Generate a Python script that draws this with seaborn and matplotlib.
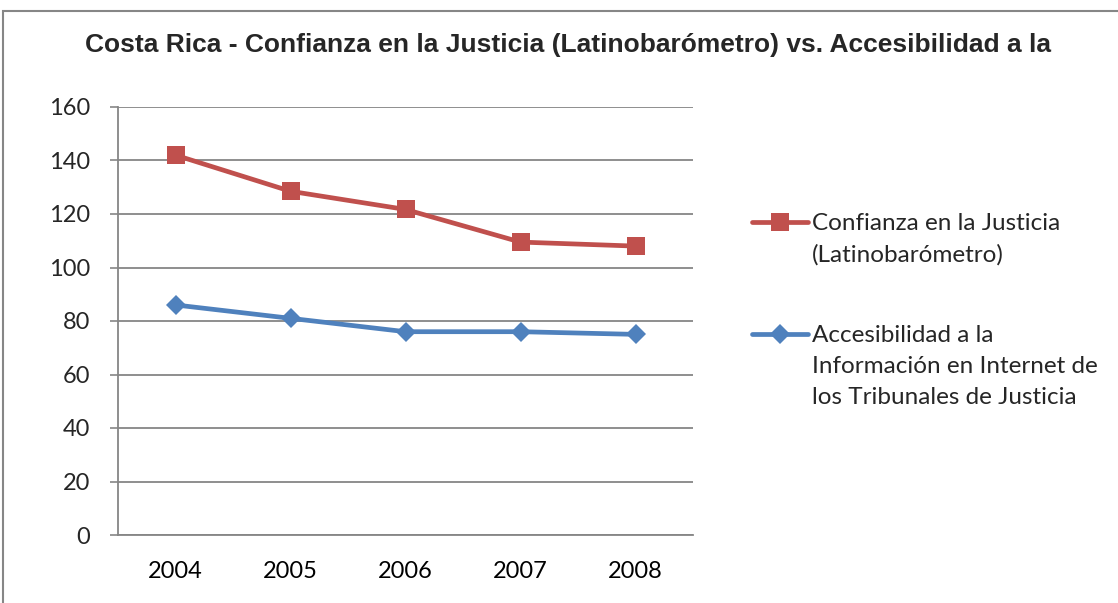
import matplotlib
matplotlib.use("Agg")
import matplotlib.pyplot as plt
import seaborn as sns
import pandas as pd
from matplotlib.patches import Rectangle
from matplotlib.lines import Line2D
from matplotlib.ticker import FixedLocator

years = ["2004", "2005", "2006", "2007", "2008"]
confianza = [142, 128.5, 121.7, 109.5, 108]
accesibilidad = [86, 81, 76, 76, 75]

label_conf = "Confianza en la Justicia\n(Latinobarómetro)"
label_acc = "Accesibilidad a la\nInformación en Internet de\nlos Tribunales de Justicia"
title = "Costa Rica - Confianza en la Justicia (Latinobarómetro) vs. Accesibilidad a la"

red = "#C0504D"
blue = "#4F81BD"
grid_gray = "#868686"

sns.set_style("white")
plt.rcParams["font.family"] = ["Lato", "DejaVu Sans"]

df = pd.DataFrame({
    "year": list(range(len(years))) * 2,
    "value": confianza + accesibilidad,
    "serie": [label_conf] * len(years) + [label_acc] * len(years),
})

fig = plt.figure(figsize=(11.18, 6.03), dpi=100)
W, H = 1118, 603
ax = fig.add_axes([118 / W, 1 - 535 / H, (693 - 118) / W, (535 - 107) / H])

sns.lineplot(data=df, x="year", y="value", hue="serie", style="serie",
             palette={label_conf: red, label_acc: blue},
             markers={label_conf: "s", label_acc: "D"}, dashes=False,
             linewidth=3.4, markersize=13, markeredgewidth=0, ax=ax, legend=False)
# diamond markers are a bit smaller
for line in ax.lines:
    if line.get_marker() == "D":
        line.set_markersize(10.5)

ax.set_xlim(-0.5, len(years) - 0.5)
ax.set_ylim(0, 160)
ax.set_yticks(range(0, 161, 20))
ax.set_xticks(range(len(years)))
ax.set_xticklabels(years)
ax.xaxis.set_minor_locator(FixedLocator([i - 0.5 for i in range(len(years) + 1)]))
ax.tick_params(axis="x", which="major", length=0, pad=19, labelsize=17, colors="black")
ax.tick_params(axis="x", which="minor", length=8, width=1.2, color=grid_gray, direction="out")
ax.tick_params(axis="y", length=6, width=1.2, color=grid_gray, direction="out",
               labelsize=17, pad=14, left=True)
ax.set_xlabel("")
ax.set_ylabel("")
ax.grid(axis="y", color=grid_gray, linewidth=1.3)
ax.set_axisbelow(True)
for side in ["top", "right"]:
    ax.spines[side].set_visible(False)
for side in ["left", "bottom"]:
    ax.spines[side].set_color(grid_gray)
    ax.spines[side].set_linewidth(1.3)

fig.text(568 / W, 1 - 45 / H, title, ha="center", va="center",
         fontsize=19, fontweight="bold", family=["Liberation Sans", "DejaVu Sans"])

# legend entries: handle aligned with the first line of each label
entries = [(label_conf, red, "s", 13, 222), (label_acc, blue, "D", 10.5, 334)]
for text, color, marker, ms, ypx in entries:
    y = 1 - ypx / H
    fig.add_artist(Line2D([752 / W, 808 / W], [y, y], transform=fig.transFigure,
                          color=color, lw=3.4, solid_capstyle="round"))
    fig.add_artist(Line2D([780 / W], [y], transform=fig.transFigure, color=color,
                          marker=marker, markersize=ms, markeredgewidth=0))
    fig.text(812 / W, 1 - (ypx - 9) / H, text, ha="left", va="top",
             fontsize=17.5, linespacing=1.6)

fig.patches.append(Rectangle((3 / W, -0.1), 1.2, 1 - 11 / H + 0.1,
                             transform=fig.transFigure, fill=False,
                             edgecolor=grid_gray, linewidth=1.5))

fig.savefig("out.png", dpi=100)
